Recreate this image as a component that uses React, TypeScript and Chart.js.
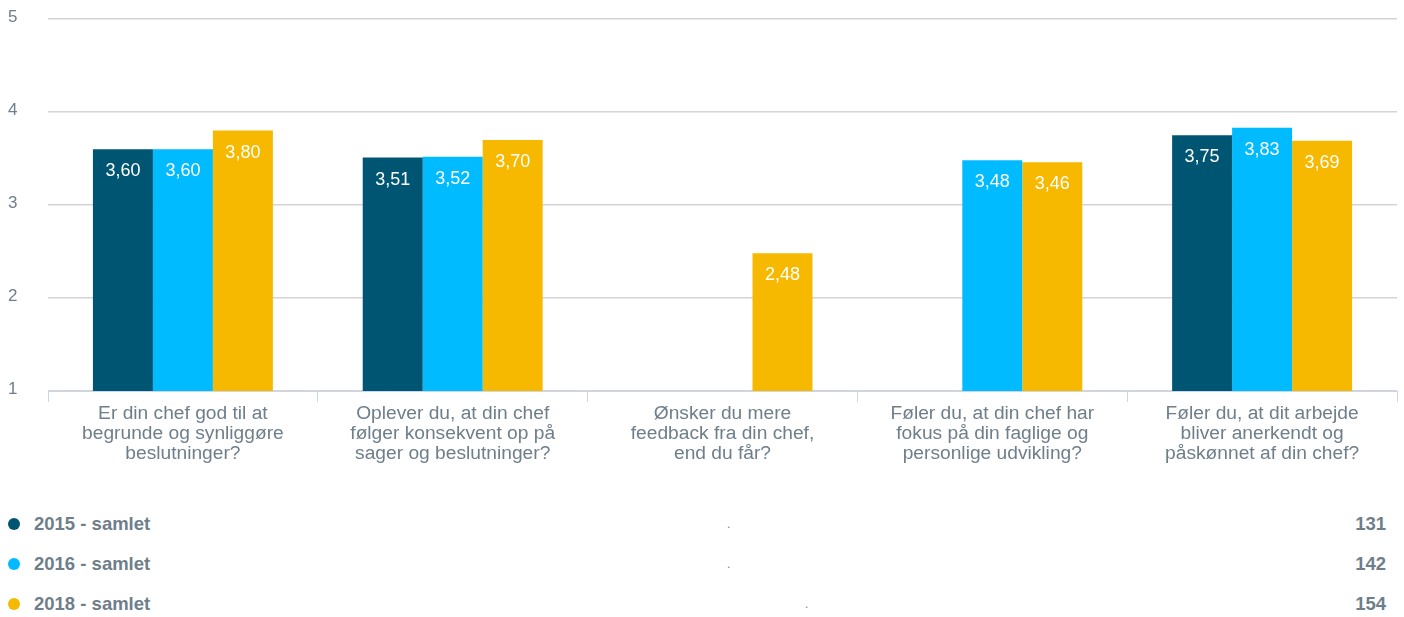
import React, { useEffect, useRef } from "react";
import { Chart, registerables } from "chart.js";

Chart.register(...registerables);

const categories: string[][] = [
  ["Er din chef god til at", "begrunde og synliggøre", "beslutninger?"],
  ["Oplever du, at din chef", "følger konsekvent op på", "sager og beslutninger?"],
  ["Ønsker du mere", "feedback fra din chef,", "end du får?"],
  ["Føler du, at din chef har", "fokus på din faglige og", "personlige udvikling?"],
  ["Føler du, at dit arbejde", "bliver anerkendt og", "påskønnet af din chef?"],
];

const seriesNames = ["2015 - samlet", "2016 - samlet", "2018 - samlet"];
const values2015: (number | null)[] = [3.6, 3.51, null, null, 3.75];
const values2016: (number | null)[] = [3.6, 3.52, null, 3.48, 3.83];
const values2018: (number | null)[] = [3.8, 3.7, 2.48, 3.46, 3.69];
const counts = [131, 142, 154];
const colors = ["#005672", "#00bbff", "#f7b900"];
const yTicks = [1, 2, 3, 4, 5];

const FONT = "'Liberation Sans', Arial, Helvetica, sans-serif";
const TEXT = "#6e7e8a";

const dataLabelPlugin = {
  id: "dataLabels",
  afterDatasetsDraw(chart: any) {
    const ctx = chart.ctx;
    ctx.save();
    ctx.font = `18px ${FONT}`;
    ctx.fillStyle = "#ffffff";
    ctx.textAlign = "center";
    ctx.textBaseline = "middle";
    chart.data.datasets.forEach((ds: any, di: number) => {
      const meta = chart.getDatasetMeta(di);
      meta.data.forEach((bar: any, i: number) => {
        const v = ds.data[i];
        if (v === null || v === undefined) return;
        ctx.fillText(v.toFixed(2).replace(".", ","), bar.x, bar.y + 22);
      });
    });
    ctx.restore();
  },
};

export default function App() {
  const ref = useRef<HTMLCanvasElement>(null);
  useEffect(() => {
    document.body.style.margin = "0";
    Chart.defaults.font.family = FONT;
    const chart = new Chart(ref.current!, {
      type: "bar",
      data: {
        labels: categories,
        datasets: [values2015, values2016, values2018].map((d, i) => ({
          label: seriesNames[i],
          data: d,
          backgroundColor: colors[i],
          borderWidth: 0,
          categoryPercentage: 0.667,
          barPercentage: 1.0,
        })),
      },
      options: {
        animation: false,
        responsive: true,
        maintainAspectRatio: false,
        layout: { padding: { left: 8, right: 7, top: 19, bottom: 0 } },
        plugins: { legend: { display: false }, tooltip: { enabled: false } },
        scales: {
          x: {
            offset: true,
            grid: {
              drawOnChartArea: false,
              drawTicks: true,
              tickLength: 11,
              color: "#ccd6eb",
              offset: true,
            },
            border: { display: true, color: "#ccd6eb", width: 1 },
            ticks: {
              color: TEXT,
              font: { size: 19.2, lineHeight: 1.04 },
              padding: 2,
              maxRotation: 0,
              autoSkip: false,
            },
            afterFit: (s: any) => {
              s.height = 79;
            },
          },
          y: {
            min: 1,
            max: 5,
            afterBuildTicks: (s: any) => {
              s.ticks = yTicks.map((v) => ({ value: v }));
            },
            grid: { color: "#d4d4d4", lineWidth: 1.5, drawTicks: false },
            border: { display: false },
            ticks: {
              color: TEXT,
              font: { size: 17 },
              crossAlign: "far",
              padding: 0,
              labelOffset: -2,
            },
            afterFit: (s: any) => {
              s.width = 40;
            },
          },
        },
      },
      plugins: [dataLabelPlugin],
    });
    return () => chart.destroy();
  }, []);

  const dotX = [727, 727, 805];
  return (
    <div style={{ position: "relative", width: 1404, height: 617, fontFamily: FONT }}>
      <div style={{ position: "absolute", left: 0, top: 0, width: 1404, height: 470 }}>
        <canvas ref={ref} />
      </div>
      {seriesNames.map((name, i) => {
        const cy = 524 + i * 40;
        return (
          <React.Fragment key={name}>
            <div
              style={{
                position: "absolute",
                left: 8,
                top: cy - 6,
                width: 12,
                height: 12,
                borderRadius: 6,
                background: colors[i],
              }}
            />
            <div
              style={{
                position: "absolute",
                left: 34,
                top: cy - 11,
                height: 22,
                lineHeight: "22px",
                fontSize: 18.5,
                fontWeight: "bold",
                color: TEXT,
                whiteSpace: "nowrap",
              }}
            >
              {name}
            </div>
            <div
              style={{
                position: "absolute",
                left: dotX[i],
                top: cy - 11,
                height: 22,
                lineHeight: "22px",
                fontSize: 12,
                color: TEXT,
              }}
            >
              .
            </div>
            <div
              style={{
                position: "absolute",
                right: 1404 - 1386,
                top: cy - 11,
                height: 22,
                lineHeight: "22px",
                fontSize: 18.5,
                fontWeight: "bold",
                color: TEXT,
              }}
            >
              {counts[i]}
            </div>
          </React.Fragment>
        );
      })}
    </div>
  );
}
